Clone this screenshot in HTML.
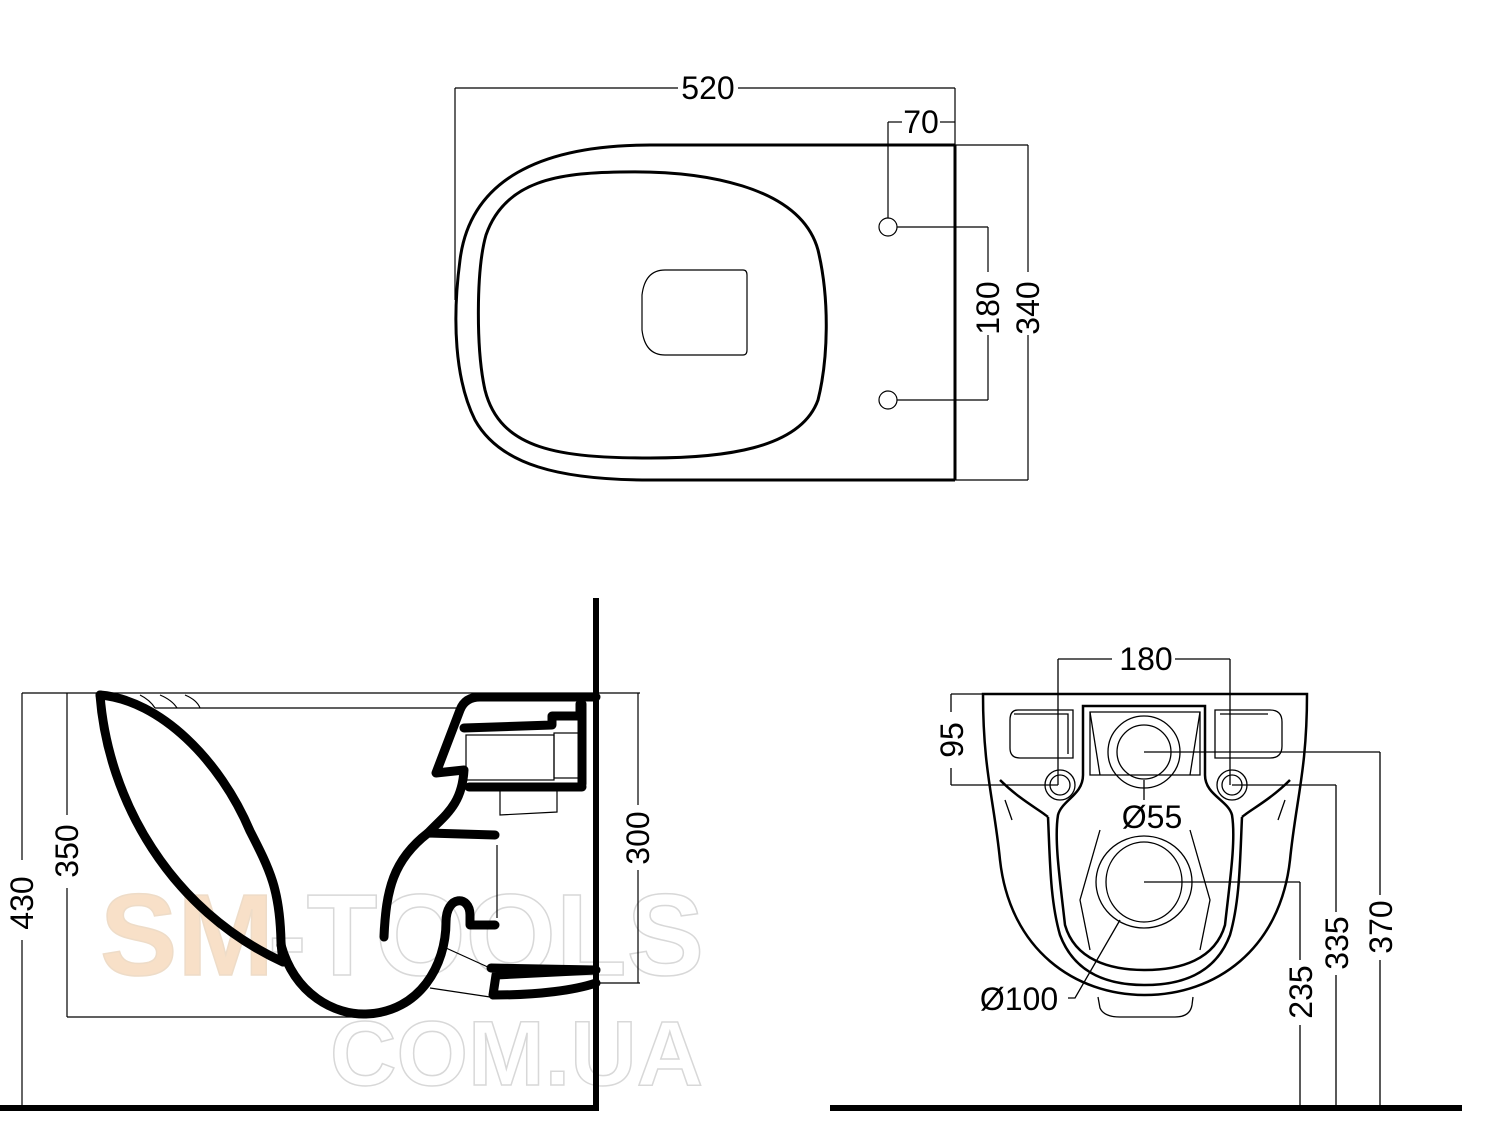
<!DOCTYPE html>
<html><head><meta charset="utf-8"><style>
html,body{margin:0;padding:0;background:#fff;}
svg{display:block;}
text{font-family:"Liberation Sans",sans-serif;font-size:32px;fill:#000;}
</style></head><body>
<svg width="1487" height="1139" viewBox="0 0 1487 1139" xmlns="http://www.w3.org/2000/svg">
<!-- watermark -->
<g font-family="Liberation Sans" font-weight="bold">
<text x="100" y="975" style="font-size:116px;fill:#f8e0c8;stroke:#eedcc8;stroke-width:1.5">SM</text>
<text x="268" y="975" style="font-size:116px;fill:none;stroke:#d8d8d8;stroke-width:1.5">-TOOLS</text>
<text x="330" y="1085" style="font-size:92px;fill:none;stroke:#d8d8d8;stroke-width:1.5">COM.UA</text>
</g>

<!-- TOP VIEW -->
<g fill="none" stroke="#000">
<path d="M955,145 L650,145 C540,145 470,180 460,260 C452,320 455,380 475,420 C500,465 560,480 650,480 L955,480" stroke-width="3"/>
<line x1="955" y1="145" x2="955" y2="480" stroke-width="3"/>
<path d="M620,172 C700,170 800,185 818,250 C830,300 828,360 818,400 C800,450 720,458 650,458 C560,458 500,450 485,390 C476,350 476,270 486,235 C505,180 560,173 620,172 Z" stroke-width="3"/>
<path d="M665,270 L743,270 Q747,270 747,275 L747,350 Q747,355 743,355 L665,355 Q645,355 642,330 L642,295 Q645,270 665,270 Z" stroke-width="1.2"/>
<circle cx="888" cy="227" r="9" stroke-width="1.2"/>
<circle cx="888" cy="400" r="9" stroke-width="1.2"/>
<g stroke-width="1.2">
<line x1="455" y1="88" x2="455" y2="300"/>
<line x1="455" y1="88" x2="678" y2="88"/><line x1="738" y1="88" x2="955" y2="88"/>
<line x1="955" y1="88" x2="955" y2="145"/>
<line x1="888" y1="122" x2="888" y2="218"/><line x1="888" y1="122" x2="902" y2="122"/><line x1="940" y1="122" x2="955" y2="122"/>
<line x1="897" y1="227" x2="988" y2="227"/><line x1="897" y1="400" x2="988" y2="400"/>
<line x1="988" y1="227" x2="988" y2="272"/><line x1="988" y1="335" x2="988" y2="400"/>
<line x1="955" y1="145" x2="1028" y2="145"/><line x1="955" y1="480" x2="1028" y2="480"/>
<line x1="1028" y1="145" x2="1028" y2="272"/><line x1="1028" y1="335" x2="1028" y2="480"/>
</g>
</g>
<text x="708" y="99" text-anchor="middle">520</text>
<text x="921" y="133" text-anchor="middle">70</text>
<text transform="translate(999,308) rotate(-90)" text-anchor="middle">180</text>
<text transform="translate(1039,308) rotate(-90)" text-anchor="middle">340</text>

<!-- SIDE VIEW -->
<g fill="none" stroke="#000">
<line x1="596" y1="598" x2="596" y2="1110" stroke-width="6"/>
<line x1="0" y1="1108" x2="599" y2="1108" stroke-width="6"/>
<g stroke-width="1.2">
<line x1="22" y1="693" x2="640" y2="693"/>
<line x1="22" y1="693" x2="22" y2="860"/><line x1="22" y1="940" x2="22" y2="1108"/>
<line x1="67" y1="693" x2="67" y2="815"/><line x1="67" y1="888" x2="67" y2="1017"/>
<line x1="67" y1="1017" x2="360" y2="1017"/>
<line x1="155" y1="708" x2="460" y2="708"/>
<line x1="638" y1="693" x2="638" y2="805"/><line x1="638" y1="870" x2="638" y2="983"/>
<line x1="596" y1="983" x2="640" y2="983"/>
<path d="M140,695 Q150,700 155,708 M160,695 Q172,700 177,708 M185,695 Q197,700 200,708"/>
<rect x="466" y="735" width="88" height="45"/>
<rect x="554" y="733" width="28" height="45"/>
<path d="M500,787 L500,815 L557,812 L557,787"/>
<line x1="497" y1="845" x2="497" y2="918"/>
<path d="M446,948 L490,968 M430,988 L490,997"/>
</g>
<g stroke-width="9" stroke-linejoin="round" stroke-linecap="round">
<path d="M100,695 C160,700 220,760 250,831 C270,870 280,890 281,942 C282,955 283,960 283,960"/>
<path d="M100,695 C108,800 170,910 283,962"/>
<path d="M281,945 C295,995 335,1015 366,1014 C420,1012 446,965 446,922 C446,895 470,895 470,915 L470,925 L495,925" />
<path d="M384,937 C386,890 393,860 428,833 L495,835"/>
<path d="M428,833 C445,815 462,805 464,770 L436,773 L460,710 Q465,697 480,697 L596,697"/>
<path d="M464,728 L552,725 L552,716 L580,716 L580,704"/>
<path d="M582,704 L582,784"/>
<path d="M469,787 L582,787"/>
<path d="M491,968 L596,970 L496,975 L493,995 C540,995 575,990 596,983"/>
</g>
</g>
<text transform="translate(33,903) rotate(-90)" text-anchor="middle">430</text>
<text transform="translate(78,851) rotate(-90)" text-anchor="middle">350</text>
<text transform="translate(649,838) rotate(-90)" text-anchor="middle">300</text>

<!-- FRONT VIEW -->
<g fill="none" stroke="#000">
<line x1="830" y1="1108" x2="1462" y2="1108" stroke-width="6"/>
<g stroke-width="2.5">
<path d="M983,694 L1307,694 C1307,770 1296,800 1290,860 C1280,950 1215,995 1145,995 C1075,995 1010,950 1000,860 C994,800 983,770 983,694 Z"/>
<path d="M1048,817 C1050,860 1050,900 1060,935 C1075,975 1110,985 1145,985 C1180,985 1215,975 1230,935 C1240,900 1240,860 1242,817"/>
<path d="M1083,706 L1205,706 L1205,775 C1205,795 1228,800 1232,815 C1236,840 1230,880 1225,925 C1215,960 1180,970 1145,970 C1110,970 1075,960 1065,925 C1060,880 1054,840 1058,815 C1062,800 1083,795 1083,775 Z"/>
<path d="M1000,780 C1020,800 1040,810 1048,817 M1290,780 C1270,800 1250,810 1242,817"/>
</g>
<g stroke-width="1.3">
<path d="M1090,712 L1200,712 L1200,775 L1090,775 Z"/>
<path d="M1090,712 L1100,775 M1200,712 L1190,775"/>
<circle cx="1144" cy="752" r="36"/>
<circle cx="1144" cy="752" r="27"/>
<ellipse cx="1144" cy="882" rx="48" ry="46"/>
<ellipse cx="1144" cy="882" rx="38" ry="40"/>
<path d="M1018,710 L1073,710 L1073,758 L1020,758 Q1010,758 1010,748 L1010,720 Q1010,710 1018,710 Z"/>
<path d="M1014,714 L1068,714 L1068,754"/>
<path d="M1215,710 L1270,710 Q1282,710 1282,722 L1282,746 Q1282,758 1270,758 L1215,758 Z"/>
<path d="M1220,714 L1268,714"/>
<circle cx="1060" cy="785" r="15"/><circle cx="1060" cy="785" r="10"/>
<circle cx="1232" cy="785" r="15"/><circle cx="1232" cy="785" r="10"/>
<path d="M1098,997 L1100,1008 Q1104,1017 1120,1017 L1175,1017 Q1190,1017 1192,1005 L1193,997"/>
<path d="M1100,830 L1080,900 L1090,950 M1190,830 L1210,900 L1200,950"/>
<path d="M1005,800 L1012,820 M1285,800 L1278,820"/>
<line x1="1058" y1="659" x2="1112" y2="659"/><line x1="1175" y1="659" x2="1230" y2="659"/>
<line x1="1058" y1="659" x2="1058" y2="785"/><line x1="1230" y1="659" x2="1230" y2="785"/>
<line x1="951" y1="694" x2="983" y2="694"/><line x1="951" y1="785" x2="1058" y2="785"/>
<line x1="951" y1="694" x2="951" y2="712"/><line x1="951" y1="768" x2="951" y2="785"/>
<line x1="1144" y1="752" x2="1380" y2="752"/><line x1="1380" y1="752" x2="1380" y2="895"/><line x1="1380" y1="960" x2="1380" y2="1108"/>
<line x1="1232" y1="785" x2="1336" y2="785"/><line x1="1336" y1="785" x2="1336" y2="912"/><line x1="1336" y1="975" x2="1336" y2="1108"/>
<line x1="1144" y1="882" x2="1300" y2="882"/><line x1="1300" y1="882" x2="1300" y2="960"/><line x1="1300" y1="1025" x2="1300" y2="1108"/>
<line x1="1144" y1="780" x2="1144" y2="800"/>
<path d="M1068,998 L1075,998 L1120,920"/>
</g>
</g>
<text x="1146" y="670" text-anchor="middle">180</text>
<text transform="translate(963,740) rotate(-90)" text-anchor="middle">95</text>
<text x="1152" y="828" text-anchor="middle">Ø55</text>
<text x="1019" y="1010" text-anchor="middle">Ø100</text>
<text transform="translate(1392,927) rotate(-90)" text-anchor="middle">370</text>
<text transform="translate(1348,943) rotate(-90)" text-anchor="middle">335</text>
<text transform="translate(1312,992) rotate(-90)" text-anchor="middle">235</text>
</svg>
</body></html>
